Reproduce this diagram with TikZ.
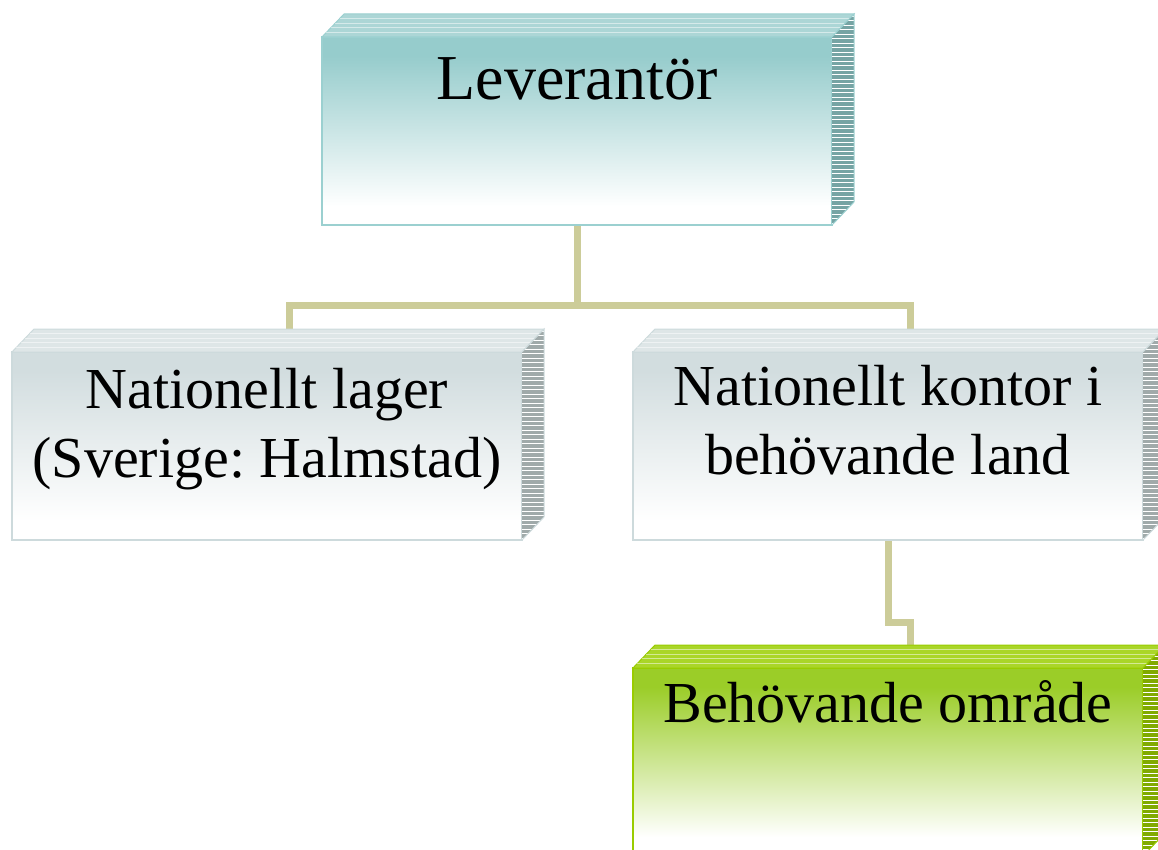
\documentclass[tikz,border=0pt]{standalone}
\usepackage{fontspec}
\setmainfont{Liberation Serif}
\usetikzlibrary{backgrounds}
\frenchspacing
\definecolor{tealF}{RGB}{150,204,204}
\definecolor{tealT}{RGB}{172,214,214}
\definecolor{tealS}{RGB}{118,164,164}
\definecolor{tealB}{RGB}{155,208,208}
\definecolor{grayF}{RGB}{210,221,223}
\definecolor{grayT}{RGB}{222,230,231}
\definecolor{grayS}{RGB}{160,170,170}
\definecolor{grayB}{RGB}{205,218,220}
\definecolor{greenF}{RGB}{155,205,40}
\definecolor{greenT}{RGB}{170,214,40}
\definecolor{greenS}{RGB}{128,170,0}
\definecolor{greenB}{RGB}{153,204,0}
\definecolor{connC}{RGB}{204,204,153}
\pgfdeclareverticalshading{tealfade}{100bp}{color(0bp)=(white); color(30bp)=(white); color(70bp)=(tealF); color(100bp)=(tealF)}
\pgfdeclareverticalshading{grayfade}{100bp}{color(0bp)=(white); color(30bp)=(white); color(70bp)=(grayF); color(100bp)=(grayF)}
\pgfdeclareverticalshading{greenfade}{100bp}{color(0bp)=(white); color(30bp)=(white); color(70bp)=(greenF); color(100bp)=(greenF)}
\tikzset{
  frontface/.style={shade, minimum width=510pt, minimum height=188pt, inner sep=0pt, outer sep=0pt, line width=1.2pt},
  conn/.style={draw=connC, line width=7pt},
  lbl/.style={anchor=base, align=center, inner sep=0pt, font=\fontsize{58}{69}\selectfont},
  stripe/.style={white, line width=0.8pt}
}
% #1 name, #2 x, #3 y (top-left of front), #4 shading, #5 top col, #6 side col, #7 border
\newcommand\threedbox[7]{%
  \node[frontface, shading=#4, draw=#7] (#1) at ({#2+255},{#3+94}) {};
  \coordinate (#1-back) at ([shift={(22,-23)}]#1.north);
  \filldraw[fill=#5, draw=#7, line width=1pt] (#1.north west) -- ++(22,-23) -- ([shift={(22,-23)}]#1.north east) -- (#1.north east) -- cycle;
  \foreach \t in {0.2,0.4,0.6,0.8}{
    \draw[white, opacity=0.5, line width=0.8pt] ([shift={(22*\t,-23*\t)}]#1.north west) -- ([shift={(22*\t,-23*\t)}]#1.north east);
  }
  \begin{scope}
    \clip (#1.north east) -- ++(22,-23) -- ([shift={(22,-23)}]#1.south east) -- (#1.south east) -- cycle;
    \fill[#6] ([shift={(0,-23)}]#1.north east) rectangle ([shift={(22,0)}]#1.south east);
    \foreach \k in {0,4.5,...,215}{
      \draw[stripe] ([shift={(0,\k-21)}]#1.north east) -- ++(22,0);
    }
  \end{scope}
  \draw[#7, line width=1pt] (#1.north east) -- ++(22,-23) -- ([shift={(22,-23)}]#1.south east) -- (#1.south east);
}
\begin{document}
\begin{tikzpicture}[x=1pt,y=-1pt]
\useasboundingbox (0,0) rectangle (1158,850);
\clip (0,0) rectangle (1158,850);
% boxes
\threedbox{lev}{322}{37}{tealfade}{tealT}{tealS}{tealB}
\threedbox{lager}{12}{352}{grayfade}{grayT}{grayS}{grayB}
\threedbox{kontor}{633}{352}{grayfade}{grayT}{grayS}{grayB}
\threedbox{omr}{633}{668}{greenfade}{greenT}{greenS}{greenB}
% connectors
\begin{pgfonlayer}{background}
\coordinate (j1) at ([shift={(0,80)}]lev.south);
\draw[conn] ([shift={(0,-2)}]lev.south) -- (j1);
\draw[conn] ([shift={(0,2)}]lager-back) |- (j1) -| ([shift={(0,2)}]kontor-back);
\draw[conn] ([shift={(0,-2)}]kontor.south) -- ++(0,84) -| ([shift={(0,2)}]omr-back);
\end{pgfonlayer}
% texts
\node[lbl, font=\fontsize{64}{70}\selectfont] (t1) at (577,100) {Leverantör};
\node[lbl] (t2) at (267,477) {Nationellt lager\\(Sverige: Halmstad)};
\node[lbl] (t3) at (888,474) {Nationellt kontor i\\behövande land};
\node[lbl] (t4) at (888,722) {Behövande område};
\end{tikzpicture}
\end{document}
